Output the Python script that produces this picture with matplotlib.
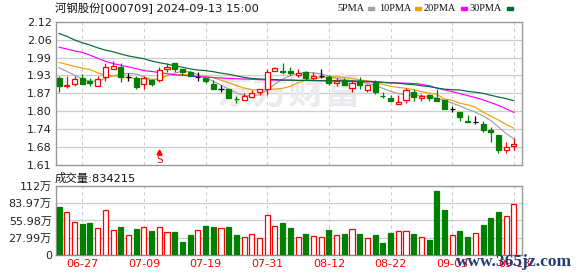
import matplotlib
matplotlib.use("Agg")
import matplotlib.pyplot as plt
from matplotlib.patches import Rectangle
import pandas as pd

title = "河钢股份[000709] 2024-09-13 15:00"
vol_title = "成交量:834215"

dates = pd.bdate_range("2024-06-24", "2024-09-13").strftime("%m-%d").tolist()
tick_labels = ["06-27", "07-09", "07-19", "07-31", "08-12", "08-22", "09-03", "09-13"]

opens = [1.918, 1.891, 1.899, 1.918, 1.909, 1.892, 1.922, 1.952, 1.960, 1.924,
         1.918, 1.898, 1.911, 1.911, 1.952, 1.972, 1.950, 1.940, 1.924, 1.921,
         1.898, 1.880, 1.880, 1.846, 1.841, 1.851, 1.871, 1.879, 1.946, 1.943,
         1.944, 1.930, 1.941, 1.918, 1.926, 1.922, 1.901, 1.910, 1.883, 1.910,
         1.877, 1.905, 1.856, 1.847, 1.828, 1.840, 1.869, 1.850, 1.859, 1.850,
         1.841, 1.809, 1.797, 1.765, 1.764, 1.755, 1.733, 1.717, 1.663, 1.677]
closes = [1.891, 1.896, 1.917, 1.898, 1.903, 1.917, 1.960, 1.962, 1.922, 1.924,
          1.889, 1.918, 1.899, 1.948, 1.960, 1.952, 1.940, 1.928, 1.924, 1.909,
          1.880, 1.880, 1.847, 1.844, 1.857, 1.868, 1.879, 1.940, 1.954, 1.940,
          1.936, 1.937, 1.918, 1.928, 1.926, 1.903, 1.909, 1.895, 1.903, 1.895,
          1.895, 1.871, 1.854, 1.838, 1.835, 1.878, 1.851, 1.857, 1.850, 1.838,
          1.810, 1.809, 1.780, 1.764, 1.764, 1.734, 1.729, 1.663, 1.674, 1.685]
highs = [1.928, 1.928, 1.928, 1.933, 1.918, 1.928, 1.972, 1.979, 1.972, 1.939,
         1.928, 1.928, 1.916, 1.960, 1.972, 1.972, 1.950, 1.946, 1.940, 1.921,
         1.912, 1.895, 1.880, 1.856, 1.867, 1.878, 1.881, 1.952, 1.960, 1.974,
         1.960, 1.950, 1.944, 1.940, 1.950, 1.930, 1.918, 1.918, 1.912, 1.922,
         1.900, 1.911, 1.869, 1.859, 1.859, 1.885, 1.880, 1.864, 1.861, 1.880,
         1.843, 1.820, 1.797, 1.788, 1.786, 1.767, 1.746, 1.717, 1.693, 1.705]
lows = [1.871, 1.883, 1.891, 1.898, 1.890, 1.892, 1.909, 1.952, 1.907, 1.909,
        1.879, 1.879, 1.891, 1.907, 1.942, 1.940, 1.930, 1.928, 1.909, 1.901,
        1.880, 1.871, 1.847, 1.829, 1.840, 1.848, 1.858, 1.860, 1.946, 1.934,
        1.930, 1.922, 1.914, 1.914, 1.921, 1.894, 1.892, 1.893, 1.871, 1.880,
        1.871, 1.861, 1.847, 1.838, 1.828, 1.829, 1.838, 1.838, 1.838, 1.838,
        1.809, 1.799, 1.768, 1.764, 1.755, 1.729, 1.693, 1.654, 1.653, 1.664]

# volume in 万 (10k shares)
volumes = [78.1, 69.3, 53.0, 50.2, 51.3, 43.1, 72.6, 39.9, 45.3, 31.7,
           42.0, 44.8, 38.8, 44.8, 36.6, 37.1, 20.7, 32.2, 39.9, 47.0,
           45.3, 43.7, 45.3, 32.2, 28.9, 33.3, 27.3, 64.4, 47.0, 51.9,
           43.9, 29.0, 34.3, 30.7, 29.0, 41.0, 32.4, 34.0, 42.1, 34.0,
           27.4, 32.5, 19.5, 35.7, 39.0, 39.0, 34.1, 29.2, 24.9, 103.9,
           73.0, 32.5, 39.5, 29.8, 35.7, 48.7, 60.6, 70.3, 63.3, 83.42]

ma5 = [1.956, 1.943, 1.930, 1.916, 1.908, 1.909, 1.918, 1.927, 1.933, 1.936,
       1.934, 1.924, 1.914, 1.916, 1.928, 1.937, 1.944, 1.942, 1.932, 1.920,
       1.908, 1.895, 1.880, 1.866, 1.857, 1.856, 1.860, 1.876, 1.898, 1.916,
       1.928, 1.935, 1.940, 1.938, 1.934, 1.925, 1.918, 1.914, 1.910, 1.905,
       1.901, 1.893, 1.883, 1.872, 1.864, 1.860, 1.858, 1.856, 1.854, 1.848,
       1.840, 1.830, 1.820, 1.808, 1.798, 1.785, 1.768, 1.745, 1.722, 1.703]
ma10 = [1.975, 1.968, 1.961, 1.955, 1.950, 1.938, 1.930, 1.928, 1.925, 1.921,
        1.918, 1.915, 1.913, 1.917, 1.928, 1.932, 1.932, 1.930, 1.927, 1.925,
        1.921, 1.912, 1.903, 1.893, 1.884, 1.878, 1.877, 1.879, 1.880, 1.883,
        1.890, 1.903, 1.912, 1.918, 1.921, 1.923, 1.924, 1.922, 1.918, 1.913,
        1.909, 1.904, 1.897, 1.890, 1.886, 1.883, 1.878, 1.871, 1.866, 1.861,
        1.845, 1.840, 1.830, 1.824, 1.816, 1.798, 1.784, 1.770, 1.754, 1.741]
ma20 = [2.029, 2.023, 2.016, 2.011, 2.001, 1.990, 1.979, 1.971, 1.965, 1.959,
        1.953, 1.946, 1.943, 1.939, 1.935, 1.931, 1.929, 1.927, 1.924, 1.923,
        1.921, 1.920, 1.918, 1.917, 1.916, 1.915, 1.914, 1.912, 1.912, 1.912,
        1.912, 1.911, 1.911, 1.910, 1.910, 1.909, 1.909, 1.908, 1.907, 1.906,
        1.906, 1.905, 1.904, 1.903, 1.902, 1.901, 1.900, 1.897, 1.892, 1.884,
        1.877, 1.871, 1.864, 1.857, 1.850, 1.842, 1.832, 1.822, 1.810, 1.797]
ma30 = [2.078, 2.068, 2.055, 2.045, 2.037, 2.027, 2.019, 2.013, 2.005, 1.998,
        1.993, 1.988, 1.980, 1.974, 1.969, 1.963, 1.958, 1.952, 1.948, 1.946,
        1.942, 1.937, 1.933, 1.927, 1.922, 1.918, 1.916, 1.915, 1.914, 1.912,
        1.912, 1.911, 1.911, 1.911, 1.910, 1.910, 1.910, 1.910, 1.909, 1.909,
        1.908, 1.907, 1.904, 1.902, 1.901, 1.898, 1.896, 1.892, 1.889, 1.884,
        1.880, 1.878, 1.877, 1.872, 1.869, 1.865, 1.858, 1.852, 1.846, 1.839]

price_ticks = [1.61, 1.67375, 1.7375, 1.80125, 1.865, 1.92875, 1.9925, 2.05625, 2.12]
price_labels = ["1.61", "1.68", "1.74", "1.80", "1.87", "1.93", "1.99", "2.06", "2.12"]
vol_ticks = [0, 27.99, 55.98, 83.97, 111.96]
vol_labels = ["0", "27.99万", "55.98万", "83.97万", "112万"]

ma_names = ["5PMA", "10PMA", "20PMA", "30PMA"]
ma_colors = ["#a0a0a0", "#f0a000", "#ff00ff", "#006a30"]

RED = "#ff0000"
GREEN = "#008000"
FONT = ["DejaVu Sans", "Noto Sans CJK SC"]
plt.rcParams["font.family"] = FONT

fig = plt.figure(figsize=(5.78, 2.76), dpi=100)
ax = fig.add_axes([0.0969, 0.4022, 0.8062, 0.5192])
axv = fig.add_axes([0.0969, 0.0761, 0.8062, 0.25])

x = list(range(len(dates)))
tick_pos = [dates.index(t) for t in tick_labels]
w = 0.66

# watermark behind the candles
ax.text(0.50, 0.50, "东方财富", transform=ax.transAxes, fontsize=26, fontweight="bold",
        color="#ebebef", ha="center", va="center", family="Noto Sans CJK SC", zorder=1)

for a in (ax, axv):
    a.set_xlim(-0.4, 60.05)
    for s in a.spines.values():
        s.set_color("#999999")
        s.set_linewidth(1)
    for t in tick_pos:
        a.axvline(t, color="#cccccc", lw=0.8, ls=(0, (3, 3)), zorder=0)
    a.tick_params(length=0, labelsize=8, colors="#222222", pad=3)

ax.set_ylim(1.61, 2.12)
ax.set_yticks(price_ticks)
ax.set_yticklabels(price_labels)
ax.set_xticks([])
for p in price_ticks[1:-1]:
    ax.axhline(p, color="#cccccc", lw=0.9, zorder=0)

for i in x:
    o, c, h, l = opens[i], closes[i], highs[i], lows[i]
    if c > o:
        col = RED
    elif c < o:
        col = GREEN
    else:
        col = "black"
    top, bot = max(o, c), min(o, c)
    ax.vlines(i, top, h, color=col, lw=0.9, zorder=3)
    ax.vlines(i, l, bot, color=col, lw=0.9, zorder=3)
    if c > o:
        ax.bar(i, top - bot, w, bot, facecolor="white", edgecolor=col, lw=0.9, zorder=4)
    elif c < o:
        ax.bar(i, top - bot, w, bot, facecolor=col, edgecolor=col, lw=0.9, zorder=4)
    else:
        ax.hlines(o, i - w / 2, i + w / 2, color=col, lw=0.9, zorder=4)

for ma, col in zip([ma5, ma10, ma20, ma30], ma_colors):
    ax.plot(x, ma, color=col, lw=0.85, zorder=2)

# signal marker
s_idx = 13
ax.plot(s_idx, 1.655, marker="^", color=RED, ms=3.5, zorder=5)
ax.text(s_idx, 1.628, "S", color=RED, fontsize=7.5, ha="center", va="center", zorder=5)

# volume
axv.set_ylim(0, 111.96)
axv.set_yticks(vol_ticks)
axv.set_yticklabels(vol_labels)
for v in vol_ticks[1:-1]:
    axv.axhline(v, color="#cccccc", lw=0.9, zorder=0)
for i in x:
    if closes[i] >= opens[i]:
        axv.bar(i, volumes[i], w, facecolor="white", edgecolor=RED, lw=0.9, zorder=3)
    else:
        axv.bar(i, volumes[i], w, facecolor=GREEN, edgecolor=GREEN, lw=0.9, zorder=3)
axv.set_xticks(tick_pos)
axv.set_xticklabels(tick_labels, color=RED)
axv.spines["bottom"].set_color("#888888")

# titles and legend
fig.text(0.095, 0.969, title, fontsize=8.2, color="#111111", va="center", ha="left")
fig.text(0.095, 0.355, vol_title, fontsize=8.2, color="#111111", va="center", ha="left")
leg_x = [337, 379, 424, 470]
mark_x = [368, 415, 461, 507]
for name, lx, mx, col in zip(ma_names, leg_x, mark_x, ma_colors):
    fig.text(lx / 578, 0.969, name, fontsize=7.4, color="#111111", va="center", ha="left",
             family="Liberation Serif")
    fig.patches.append(Rectangle((mx / 578, 1 - 10 / 276), 6 / 578, 2.5 / 276,
                                 transform=fig.transFigure, color=col))

fig.text(0.99, 0.052, "www.365jz.com", fontsize=12.5, fontweight="bold", color="#1f3d78",
         ha="right", va="center", family="Liberation Serif", zorder=10)

fig.savefig("out.png", dpi=100)
